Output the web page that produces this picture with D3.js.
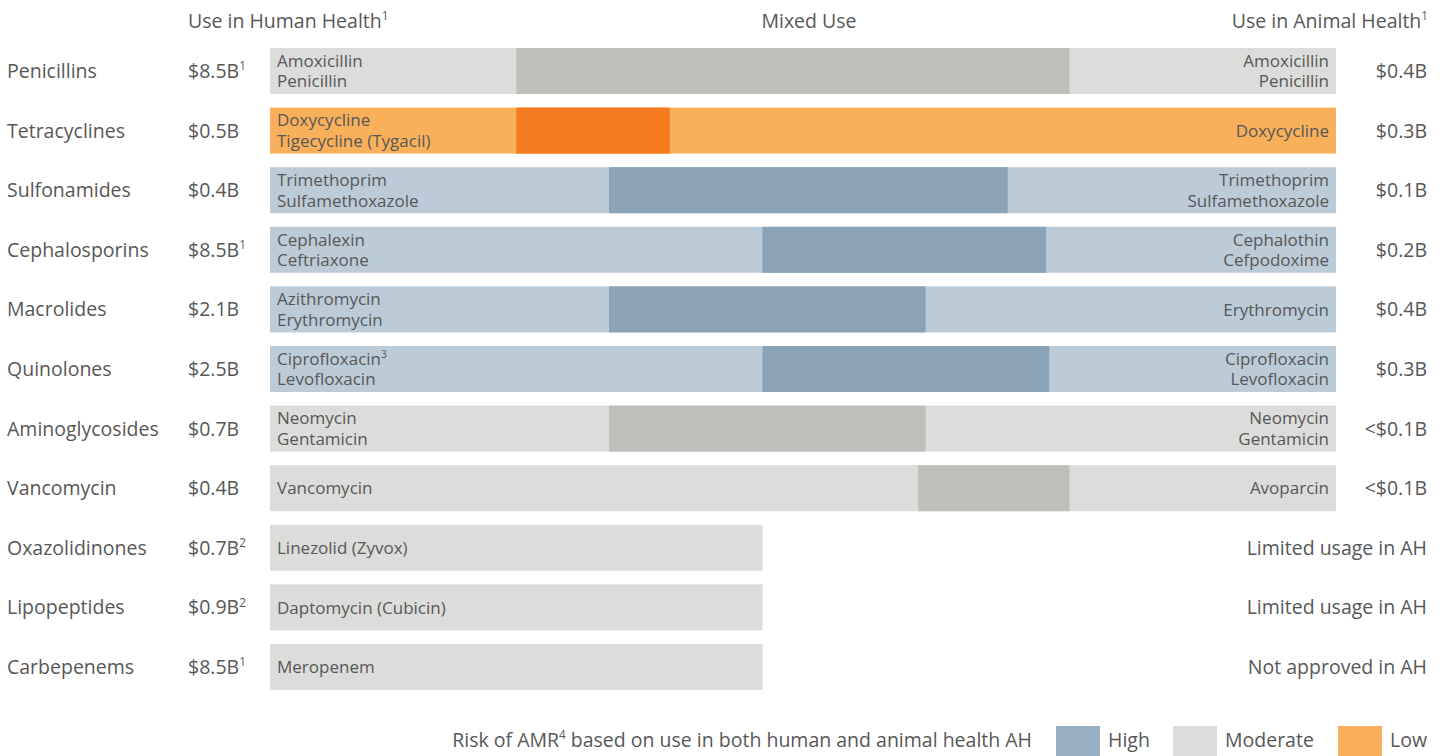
<!DOCTYPE html>
<html>
<head>
<meta charset="utf-8">
<script src="https://cdn.jsdelivr.net/npm/d3@7"></script>
<style>
  body { margin: 0; background: #fff; }
  svg text { font-family: "Open Sans", "Noto Sans", sans-serif; fill: #575757; }
</style>
</head>
<body>
<div id="chart"></div>
<script>
// data
var categories = ["Penicillins", "Tetracyclines", "Sulfonamides", "Cephalosporins", "Macrolides",
  "Quinolones", "Aminoglycosides", "Vancomycin", "Oxazolidinones", "Lipopeptides", "Carbepenems"]
var humanValues = ["$8.5B^1", "$0.5B", "$0.4B", "$8.5B^1", "$2.1B", "$2.5B", "$0.7B", "$0.4B", "$0.7B^2", "$0.9B^2", "$8.5B^1"]
var animalValues = ["$0.4B", "$0.3B", "$0.1B", "$0.2B", "$0.4B", "$0.3B", "<$0.1B", "<$0.1B",
  "Limited usage in AH", "Limited usage in AH", "Not approved in AH"]
var humanDrugs = [
  ["Amoxicillin", "Penicillin"], ["Doxycycline", "Tigecycline (Tygacil)"], ["Trimethoprim", "Sulfamethoxazole"],
  ["Cephalexin", "Ceftriaxone"], ["Azithromycin", "Erythromycin"], ["Ciprofloxacin^3", "Levofloxacin"],
  ["Neomycin", "Gentamicin"], ["Vancomycin"], ["Linezolid (Zyvox)"], ["Daptomycin (Cubicin)"], ["Meropenem"]]
var animalDrugs = [
  ["Amoxicillin", "Penicillin"], ["Doxycycline"], ["Trimethoprim", "Sulfamethoxazole"],
  ["Cephalothin", "Cefpodoxime"], ["Erythromycin"], ["Ciprofloxacin", "Levofloxacin"],
  ["Neomycin", "Gentamicin"], ["Avoparcin"], [], [], []]
var risk = ["Moderate", "Low", "High", "High", "High", "High", "Moderate", "Moderate", "Moderate", "Moderate", "Moderate"]
// bar extent and mixed-use span, in % of the full width
var barEnd = [100, 100, 100, 100, 100, 100, 100, 100, 46.2, 46.2, 46.2]
var mixStart = [23.1, 23.1, 31.8, 46.2, 31.8, 46.2, 31.8, 60.8, null, null, null]
var mixEnd = [75.0, 37.5, 69.2, 72.8, 61.5, 73.1, 61.5, 75.0, null, null, null]

var legendLevels = ["High", "Moderate", "Low"]
var lightColor = { High: "#bccbd8", Moderate: "#dcdcdb", Low: "#f9b05b" }
var darkColor = { High: "#8ba3b7", Moderate: "#bebfba", Low: "#f47b20" }
var swatchColor = { High: "#97afc0", Moderate: "#dcdcdb", Low: "#f9af5b" }

var W = 1445, H = 756
var bigFont = 19.5, smallFont = 17

var svg = d3.select("#chart").append("svg")
  .attr("width", W).attr("height", H)

var x = d3.scaleLinear().domain([0, 100]).range([270, 1336])
var y = d3.scaleBand().domain(categories).range([48, 690]).paddingInner(0.228).paddingOuter(0)

// write text that may hold "^n" superscripts (one char after the caret)
function supText(sel, str, size) {
  var parts = str.split("^")
  sel.append("tspan").text(parts[0])
  for (var k = 1; k < parts.length; k++) {
    var p = parts[k]
    sel.append("tspan").attr("font-size", size * 0.6).attr("dy", -size * 0.4).text(p.charAt(0))
    if (p.length > 1) {
      sel.append("tspan").attr("font-size", size).attr("dy", size * 0.4).text(p.slice(1))
    }
  }
}

// column headers
var hdr = svg.append("g").attr("font-size", bigFont)
supText(hdr.append("text").attr("x", 188).attr("y", 28), "Use in Human Health^1", bigFont)
hdr.append("text").attr("x", 809).attr("y", 28).attr("text-anchor", "middle").text("Mixed Use")
supText(hdr.append("text").attr("x", 1428).attr("y", 28).attr("text-anchor", "end"), "Use in Animal Health^1", bigFont)

var rows = svg.selectAll("g.row").data(categories).enter().append("g").attr("class", "row")
  .attr("transform", function (d) { return "translate(0," + y(d) + ")" })

var bh = y.bandwidth()

rows.append("rect")
  .attr("x", x(0))
  .attr("width", function (d, i) { return x(barEnd[i]) - x(0) })
  .attr("height", bh)
  .attr("fill", function (d, i) { return lightColor[risk[i]] })

rows.filter(function (d, i) { return mixStart[i] != null })
  .append("rect")
  .attr("x", function (d) { var i = categories.indexOf(d); return x(mixStart[i]) })
  .attr("width", function (d) { var i = categories.indexOf(d); return x(mixEnd[i]) - x(mixStart[i]) })
  .attr("height", bh)
  .attr("fill", function (d) { return darkColor[risk[categories.indexOf(d)]] })

// category names
rows.append("text").attr("x", 7).attr("y", bh / 2).attr("dy", "0.36em")
  .attr("font-size", bigFont).text(function (d) { return d })

// human health value
rows.append("text").attr("x", 188).attr("y", bh / 2).attr("dy", "0.36em")
  .attr("font-size", bigFont)
  .each(function (d, i) { supText(d3.select(this), humanValues[i], bigFont) })

// animal health value
rows.append("text").attr("x", 1427).attr("y", bh / 2).attr("dy", "0.36em")
  .attr("text-anchor", "end").attr("font-size", bigFont)
  .text(function (d, i) { return animalValues[i] })

// drug names inside bars
function drugLines(g, lines, xPos, anchor) {
  var lh = 20.5
  var top = bh / 2 - (lines.length - 1) * lh / 2
  lines.forEach(function (line, k) {
    var t = g.append("text").attr("x", xPos).attr("y", top + k * lh).attr("dy", "0.36em")
      .attr("font-size", smallFont).attr("text-anchor", anchor)
    supText(t, line, smallFont)
  })
}

rows.each(function (d, i) {
  var g = d3.select(this)
  drugLines(g, humanDrugs[i], x(0) + 7, "start")
  drugLines(g, animalDrugs[i], x(100) - 7, "end")
})

// legend
var leg = svg.append("g").attr("font-size", bigFont)
supText(leg.append("text").attr("x", 1032).attr("y", 747).attr("text-anchor", "end"),
  "Risk of AMR^4 based on use in both human and animal health AH", bigFont)

var legX = d3.scaleOrdinal().domain(legendLevels).range([1056, 1173, 1338])
var items = leg.selectAll("g.item").data(legendLevels).enter().append("g").attr("class", "item")
items.append("rect")
  .attr("x", function (d) { return legX(d) }).attr("y", 726)
  .attr("width", 44).attr("height", 30)
  .attr("fill", function (d) { return swatchColor[d] })
items.append("text")
  .attr("x", function (d) { return legX(d) + 52 }).attr("y", 747)
  .text(function (d) { return d })
</script>
</body>
</html>
